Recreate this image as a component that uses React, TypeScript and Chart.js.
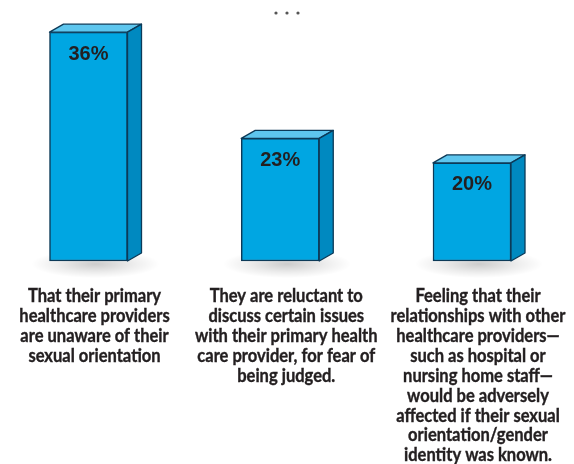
import React, { useEffect, useRef } from "react";
import { Chart, registerables } from "chart.js";

Chart.register(...registerables);

const CATEGORIES: string[][] = [
  ["That their primary", "healthcare providers", "are unaware of their", "sexual orientation"],
  [
    "They are reluctant to",
    "discuss certain issues",
    "with their primary health",
    "care provider, for fear of",
    "being judged.",
  ],
  [
    "Feeling that their",
    "relationships with other",
    "healthcare providers—",
    "such as hospital or",
    "nursing home staff—",
    "would be adversely",
    "affected if their sexual",
    "orientation/gender",
    "identity was known.",
  ],
];
const VALUES: number[] = [36, 23, 20];
const Y_MIN = 8;
const Y_MAX = 37;

const FRONT = "#00a6e2";
const TOP = "#5ec6ee";
const SIDE = "#0089c0";
const EDGE = "#0c3a58";
const TEXT = "#231f20";
const LABEL_FONT = "bold 19px Lato, 'Liberation Sans', sans-serif";
const LABEL_SQUEEZE = 0.87;
const LABEL_LINE = 19.9;
const DX = 14;
const DY = -8;

const bar3d = {
  id: "bar3d",
  beforeDatasetsDraw(chart: any) {
    const ctx = chart.ctx;
    const meta = chart.getDatasetMeta(0);
    const bottom = chart.chartArea.bottom;
    meta.data.forEach((el: any) => {
      const cx = el.x + DX / 2;
      const cy = bottom + 3;
      ctx.save();
      ctx.translate(cx, cy);
      ctx.scale(1, 0.22);
      const g = ctx.createRadialGradient(0, 0, 0, 0, 0, 64);
      g.addColorStop(0, "rgba(0,0,0,0.2)");
      g.addColorStop(0.6, "rgba(0,0,0,0.07)");
      g.addColorStop(1, "rgba(0,0,0,0)");
      ctx.fillStyle = g;
      ctx.beginPath();
      ctx.arc(0, 0, 64, 0, Math.PI * 2);
      ctx.fill();
      ctx.restore();
    });
    ctx.save();
    ctx.fillStyle = "#555";
    [276, 287, 298].forEach((x) => {
      ctx.beginPath();
      ctx.arc(x, 13, 1.6, 0, Math.PI * 2);
      ctx.fill();
    });
    ctx.restore();
  },
  afterDatasetsDraw(chart: any) {
    const ctx = chart.ctx;
    const meta = chart.getDatasetMeta(0);
    const bottom = chart.chartArea.bottom;
    const xScale = chart.scales.x;
    meta.data.forEach((el: any, i: number) => {
      const x0 = el.x - el.width / 2;
      const x1 = el.x + el.width / 2;
      const yt = el.y;
      const yb = Math.min(el.base, bottom);
      ctx.save();
      ctx.lineJoin = "round";
      ctx.lineWidth = 1.3;
      ctx.strokeStyle = EDGE;
      ctx.beginPath();
      ctx.moveTo(x0, yt);
      ctx.lineTo(x0 + DX, yt + DY);
      ctx.lineTo(x1 + DX, yt + DY);
      ctx.lineTo(x1, yt);
      ctx.closePath();
      ctx.fillStyle = TOP;
      ctx.fill();
      ctx.stroke();
      ctx.beginPath();
      ctx.moveTo(x1, yt);
      ctx.lineTo(x1 + DX, yt + DY);
      ctx.lineTo(x1 + DX, yb + DY);
      ctx.lineTo(x1, yb);
      ctx.closePath();
      ctx.fillStyle = SIDE;
      ctx.fill();
      ctx.stroke();
      ctx.fillStyle = TEXT;
      ctx.font = "bold 20px 'Liberation Sans', Arial, sans-serif";
      ctx.textAlign = "center";
      ctx.textBaseline = "middle";
      ctx.fillText(VALUES[i] + "%", el.x, yt + 22);
      ctx.restore();
    });
    CATEGORIES.forEach((lines, i) => {
      const cx = xScale.getPixelForValue(i) + 6;
      lines.forEach((line, j) => {
        ctx.save();
        ctx.translate(cx, bottom + 35 + j * LABEL_LINE);
        ctx.scale(LABEL_SQUEEZE, 1);
        ctx.font = LABEL_FONT;
        ctx.fillStyle = TEXT;
        ctx.strokeStyle = TEXT;
        ctx.lineWidth = 0.4;
        ctx.textAlign = "center";
        ctx.textBaseline = "middle";
        ctx.fillText(line, 0, 0);
        ctx.strokeText(line, 0, 0);
        ctx.restore();
      });
    });
  },
};

export default function App() {
  const ref = useRef<HTMLCanvasElement | null>(null);
  useEffect(() => {
    if (!ref.current) return;
    const chart = new Chart(ref.current, {
      type: "bar",
      data: {
        labels: CATEGORIES.map((c) => c.join(" ")),
        datasets: [
          {
            data: VALUES,
            base: Y_MIN,
            backgroundColor: FRONT,
            borderColor: EDGE,
            borderWidth: 1.5,
            borderSkipped: false,
            barThickness: 78,
            clip: false as any,
          } as any,
        ],
      },
      options: {
        animation: false,
        responsive: true,
        maintainAspectRatio: false,
        layout: { padding: { left: 88.5, right: 102, top: 24, bottom: 203 } },
        plugins: { legend: { display: false }, tooltip: { enabled: false } },
        scales: {
          x: { display: false, offset: false },
          y: { display: false, min: Y_MIN, max: Y_MAX },
        },
      },
      plugins: [bar3d],
    });
    return () => chart.destroy();
  }, []);
  return (
    <div style={{ position: "absolute", left: 0, top: 0, width: 574, height: 464, background: "#fff" }}>
      <canvas ref={ref} />
    </div>
  );
}
